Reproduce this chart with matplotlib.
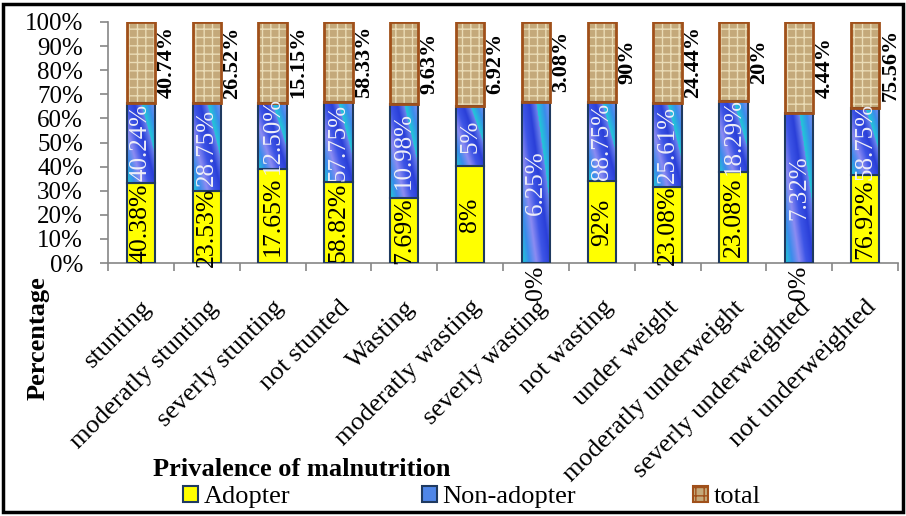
import numpy as np
import matplotlib.pyplot as plt
from matplotlib.colors import LinearSegmentedColormap
from matplotlib.patches import Patch, Rectangle

plt.rcParams['font.family'] = ['Liberation Serif', 'DejaVu Serif']

# data
categories = ["stunting", "moderatly stunting", "severly stunting", "not stunted",
              "Wasting", "moderatly wasting", "severly wasting", "not wasting",
              "under weight", "moderatly underweight", "severly underweighted",
              "not underweighted"]
adopter = [40.38, 23.53, 17.65, 58.82, 7.69, 8, 0, 92, 23.08, 23.08, 0, 76.92]
non_adopter = [40.24, 28.75, 12.50, 57.75, 10.98, 5, 6.25, 88.75, 25.61, 18.29, 7.32, 58.75]
total = [40.74, 26.52, 15.15, 58.33, 9.63, 6.92, 3.08, 90, 24.44, 20, 4.44, 75.56]
adopter_lbl = ["40.38%", "23.53%", "17.65%", "58.82%", "7.69%", "8%", "0%", "92%",
               "23.08%", "23.08%", "0%", "76.92%"]
non_adopter_lbl = ["40.24%", "28.75%", "12.50%", "57.75%", "10.98%", "5%", "6.25%",
                   "88.75%", "25.61%", "18.29%", "7.32%", "58.75%"]
total_lbl = ["40.74%", "26.52%", "15.15%", "58.33%", "9.63%", "6.92%", "3.08%", "90%",
             "24.44%", "20%", "4.44%", "75.56%"]
series_names = ["Adopter", "Non-adopter", "total"]

# 100% stacked
a = np.array(adopter, float)
n = np.array(non_adopter, float)
t = np.array(total, float)
s = a + n + t
pa, pn, pt = a / s * 100, n / s * 100, t / s * 100

W, H = 906, 516
fig = plt.figure(figsize=(W / 100, H / 100), dpi=100)
ax = fig.add_axes([108 / W, (H - 263) / H, (898 - 108) / W, (263 - 22) / H])

x = np.arange(len(categories)) + 0.5
bw = 0.43
navy = '#1F3A60'
tan = '#C4A97A'

# Adopter
ax.bar(x, pa, bw, color='#FFFF00', edgecolor=navy, linewidth=1.5, zorder=3)

# Non-adopter with gradient fill
blue_cmap = LinearSegmentedColormap.from_list(
    'nb', ['#1FCBD6', '#3A8CEB', '#8C8CF2', '#3D55E6', '#2A3FD8', '#6F86EE'])
bars_n = ax.bar(x, pn, bw, bottom=pa, facecolor='none', edgecolor=navy,
                linewidth=1.5, zorder=4)
uu, vv = np.meshgrid(np.linspace(0, 1, 40), np.linspace(0, 1, 120))
grad = (uu * 0.8 + vv * 0.6) % 1.0
for b in bars_n:
    x0, y0 = b.get_x(), b.get_y()
    im = ax.imshow(grad, cmap=blue_cmap, extent=(x0, x0 + b.get_width(), y0, y0 + b.get_height()),
                   aspect='auto', origin='lower', zorder=3, interpolation='bilinear')
    im.set_clip_path(b)

# total, woven texture
ax.bar(x, pt, bw, bottom=pa + pn, facecolor=tan, edgecolor='#EADCB6',
       hatch='++', linewidth=0, zorder=3)
ax.bar(x, pt, bw, bottom=pa + pn, facecolor='none', edgecolor='#A0501A',
       linewidth=2, zorder=4)

# labels
for i in range(len(categories)):
    if pa[i] > 0:
        ax.text(x[i], pa[i] / 2, adopter_lbl[i], rotation=90, ha='center', va='center',
                fontsize=18.5, color='black', zorder=5)
    else:
        ax.text(x[i], -1, adopter_lbl[i], rotation=90, ha='center', va='top',
                fontsize=18.5, color='black', zorder=5, clip_on=False)
    ax.text(x[i], pa[i] + pn[i] / 2, non_adopter_lbl[i], rotation=90, ha='center',
            va='center', fontsize=18, color='#EEEEF8', zorder=5)
    ax.text(x[i] + bw / 2 + 0.02, pa[i] + pn[i] + pt[i] / 2, total_lbl[i], rotation=90,
            ha='left', va='center', fontsize=16, fontweight='bold', color='black', zorder=5)

ax.set_xlim(0, len(categories))
ax.set_ylim(0, 100)
ax.set_yticks(np.arange(0, 101, 10))
ax.set_yticklabels([f"{v}%" for v in range(0, 101, 10)], fontsize=18)
ax.set_xticks(x)
ax.set_xticklabels(categories, rotation=45, ha='right', rotation_mode='anchor', fontsize=19)
ax.set_xticks(np.arange(0, len(categories) + 1), minor=True)
ax.tick_params(axis='x', which='major', length=0, pad=24)
ax.tick_params(axis='x', which='minor', length=6, color='#868686', width=1.2)
ax.tick_params(axis='y', length=6, color='#868686', width=1.2, pad=12)
for sp in ['top', 'right']:
    ax.spines[sp].set_visible(False)
for sp in ['left', 'bottom']:
    ax.spines[sp].set_color('#868686')
    ax.spines[sp].set_linewidth(1.2)

fig.text(38 / W, 1 - 338 / H, "Percentage", rotation=90, ha='center', va='center',
         fontsize=19, fontweight='bold')
fig.text(153 / W, 1 - 470 / H, "Privalence of malnutrition", ha='left', va='center',
         fontsize=19, fontweight='bold')

handles = [Patch(facecolor='#FFFF00', edgecolor=navy, linewidth=1.5),
           Patch(facecolor='#4F86E8', edgecolor=navy, linewidth=1.5),
           Patch(facecolor=tan, edgecolor='#A0501A', linewidth=1.5, hatch='++')]
legend_x = [183, 422, 693]
for h, name, lx in zip(handles, series_names, legend_x):
    fig.legend([h], [name], frameon=False, loc='center left',
               bbox_to_anchor=(lx / W, 1 - 497 / H), fontsize=19,
               handlelength=0.57, handleheight=0.55, handletextpad=0.2,
               borderpad=0, borderaxespad=0)

# outer frame
fig.patches.append(Rectangle((3 / W, 4 / H), 900 / W, 508 / H, transform=fig.transFigure,
                             fill=False, edgecolor='black', linewidth=2.5))

fig.savefig("out.png", dpi=100)
